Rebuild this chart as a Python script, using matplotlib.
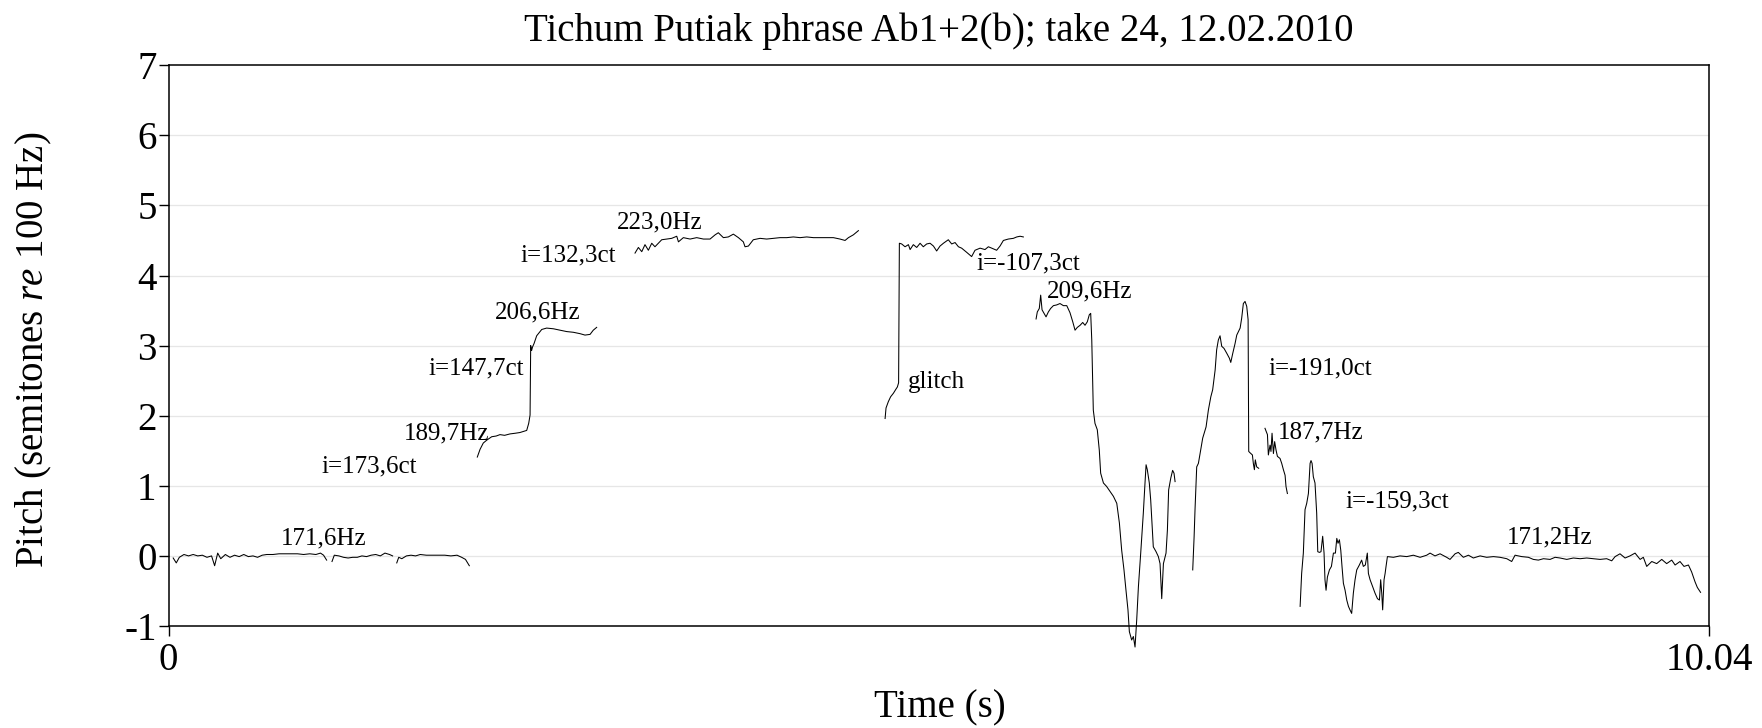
import matplotlib
matplotlib.use("Agg")
import matplotlib.pyplot as plt

# Pitch contour, semitones re 100 Hz, split into voiced stretches
seg_a1_t = [0.03, 0.05, 0.07, 0.10, 0.13, 0.16, 0.19, 0.22, 0.25, 0.28, 0.30, 0.32, 0.34, 0.37, 0.40, 0.43, 0.46,
            0.49, 0.52, 0.55, 0.58, 0.61, 0.64, 0.68, 0.72, 0.76, 0.80, 0.84, 0.88, 0.92, 0.96, 0.99, 1.01, 1.03]
seg_a1_st = [-0.03, -0.10, -0.02, 0.02, 0.00, 0.02, 0.00, 0.01, -0.02, 0.00, -0.14, 0.04, -0.04, 0.02, -0.02, 0.01,
             -0.01, 0.02, -0.01, 0.00, -0.02, 0.01, 0.02, 0.02, 0.03, 0.03, 0.03, 0.03, 0.02, 0.03, 0.02, 0.04, 0.01, -0.06]

seg_a2_t = [1.065, 1.08, 1.11, 1.14, 1.17, 1.20, 1.23, 1.26, 1.29, 1.32, 1.35, 1.38, 1.41, 1.44, 1.46]
seg_a2_st = [-0.08, 0.01, 0.00, -0.02, -0.03, -0.02, -0.02, 0.00, -0.01, 0.01, 0.02, 0.00, 0.04, 0.02, 0.00]

seg_a3_t = [1.487, 1.50, 1.52, 1.55, 1.58, 1.61, 1.64, 1.68, 1.72, 1.76, 1.80, 1.84, 1.88, 1.91, 1.935, 1.96]
seg_a3_st = [-0.10, -0.02, -0.04, 0.00, 0.01, 0.00, 0.02, 0.01, 0.01, 0.01, 0.01, 0.00, 0.01, -0.02, -0.05, -0.14]

seg_b_t = [2.012, 2.030, 2.051, 2.073, 2.106, 2.135, 2.160, 2.190, 2.225, 2.260, 2.290, 2.334, 2.347, 2.356, 2.360,
           2.366, 2.372, 2.382, 2.399, 2.432, 2.464, 2.508, 2.551, 2.595, 2.638, 2.682, 2.714, 2.747, 2.768, 2.790]
seg_b_st = [1.41, 1.52, 1.61, 1.65, 1.70, 1.71, 1.73, 1.72, 1.74, 1.75, 1.76, 1.79, 1.89, 2.01, 3.00,
            2.93, 2.98, 3.03, 3.14, 3.23, 3.25, 3.24, 3.22, 3.20, 3.19, 3.17, 3.15, 3.16, 3.22, 3.26]

seg_c_t = [3.040, 3.062, 3.084, 3.105, 3.127, 3.149, 3.170, 3.192, 3.214, 3.247, 3.279, 3.312, 3.323, 3.355, 3.399,
           3.442, 3.486, 3.529, 3.562, 3.583, 3.616, 3.648, 3.681, 3.714, 3.746, 3.757, 3.779, 3.811, 3.855, 3.898,
           3.942, 3.985, 4.029, 4.072, 4.116, 4.159, 4.203, 4.246, 4.289, 4.333, 4.376, 4.409, 4.431, 4.463, 4.496]
seg_c_st = [4.32, 4.40, 4.34, 4.44, 4.36, 4.46, 4.41, 4.46, 4.51, 4.52, 4.53, 4.56, 4.48, 4.54, 4.52,
            4.54, 4.52, 4.52, 4.58, 4.61, 4.54, 4.55, 4.59, 4.54, 4.48, 4.41, 4.42, 4.51, 4.53, 4.52,
            4.53, 4.54, 4.54, 4.55, 4.54, 4.55, 4.54, 4.54, 4.54, 4.54, 4.52, 4.50, 4.54, 4.58, 4.64]

seg_d_t = [4.670, 4.676, 4.691, 4.706, 4.724, 4.741, 4.750, 4.758, 4.763, 4.778, 4.800, 4.822, 4.833, 4.854, 4.876,
           4.898, 4.919, 4.941, 4.963, 4.985, 5.006, 5.028, 5.050, 5.082, 5.104, 5.126, 5.148, 5.169, 5.202, 5.234,
           5.256, 5.289, 5.321, 5.343, 5.365, 5.397, 5.419, 5.441, 5.473, 5.506, 5.528, 5.550, 5.571]
seg_d_st = [1.96, 2.11, 2.20, 2.27, 2.32, 2.38, 2.41, 2.47, 4.46, 4.45, 4.41, 4.44, 4.37, 4.44, 4.40,
            4.46, 4.41, 4.45, 4.46, 4.42, 4.35, 4.42, 4.46, 4.51, 4.45, 4.47, 4.41, 4.39, 4.33, 4.27,
            4.36, 4.39, 4.37, 4.41, 4.39, 4.36, 4.42, 4.50, 4.52, 4.53, 4.55, 4.56, 4.55]

seg_e1_t = [5.654, 5.662, 5.675, 5.684, 5.693, 5.706, 5.719, 5.734, 5.749, 5.767, 5.788, 5.810, 5.832, 5.854, 5.875,
            5.893, 5.908, 5.923, 5.941, 5.958, 5.973, 5.988, 6.001, 6.010, 6.017, 6.027, 6.038, 6.053, 6.066, 6.075,
            6.093, 6.114, 6.136, 6.158, 6.180, 6.197, 6.212, 6.227, 6.240, 6.253, 6.262, 6.277, 6.288, 6.299, 6.310,
            6.321, 6.336, 6.353, 6.364, 6.371, 6.379, 6.392, 6.401, 6.412, 6.418, 6.436, 6.451, 6.462, 6.473, 6.484,
            6.501, 6.510, 6.518, 6.532, 6.544, 6.553, 6.560]
seg_e1_st = [3.38, 3.48, 3.53, 3.72, 3.51, 3.46, 3.41, 3.48, 3.53, 3.57, 3.58, 3.60, 3.57, 3.57, 3.47,
             3.34, 3.22, 3.26, 3.29, 3.33, 3.29, 3.34, 3.44, 3.46, 3.08, 2.08, 1.89, 1.80, 1.51, 1.18,
             1.04, 0.99, 0.92, 0.85, 0.75, 0.47, 0.08, -0.20, -0.49, -0.77, -1.08, -1.20, -1.15, -1.30, -0.91,
             -0.44, 0.04, 0.61, 1.04, 1.30, 1.23, 1.04, 0.80, 0.37, 0.13, 0.06, -0.01, -0.11, -0.61, -0.11,
             0.04, 0.37, 0.94, 1.11, 1.22, 1.18, 1.06]

seg_e2_t = [6.675, 6.684, 6.690, 6.701, 6.712, 6.723, 6.740, 6.762, 6.777, 6.793, 6.805, 6.821, 6.831, 6.842, 6.853,
            6.864, 6.879, 6.897, 6.914, 6.923, 6.936, 6.951, 6.962, 6.984, 6.994, 7.005, 7.016, 7.027, 7.036, 7.040,
            7.049, 7.064, 7.070, 7.077, 7.083, 7.092, 7.105]
seg_e2_st = [-0.20, 0.27, 0.66, 1.27, 1.32, 1.46, 1.68, 1.84, 2.08, 2.27, 2.37, 2.65, 2.94, 3.08, 3.14,
             2.99, 2.96, 2.89, 2.82, 2.76, 2.89, 3.03, 3.15, 3.25, 3.39, 3.60, 3.63, 3.56, 3.37, 1.49,
             1.47, 1.44, 1.32, 1.23, 1.37, 1.27, 1.25]

seg_f_t = [7.146, 7.162, 7.168, 7.179, 7.185, 7.192, 7.201, 7.209, 7.218, 7.227, 7.244, 7.255, 7.266, 7.277, 7.283, 7.292]
seg_f_st = [1.82, 1.73, 1.44, 1.58, 1.49, 1.75, 1.46, 1.63, 1.51, 1.42, 1.39, 1.32, 1.23, 1.15, 0.99, 0.89]

seg_g_t = [7.375, 7.385, 7.396, 7.407, 7.418, 7.429, 7.440, 7.446, 7.453, 7.461, 7.472, 7.483, 7.490, 7.501, 7.511,
           7.522, 7.531, 7.537, 7.544, 7.553, 7.566, 7.579, 7.592, 7.605, 7.614, 7.622, 7.631, 7.640, 7.648, 7.657,
           7.668, 7.679, 7.690, 7.700, 7.711, 7.722, 7.733, 7.744, 7.761, 7.776, 7.787, 7.800, 7.813, 7.820, 7.831,
           7.848, 7.863, 7.879, 7.892, 7.900, 7.907, 7.913, 7.922, 7.929, 7.935, 7.944]
seg_g_st = [-0.72, -0.25, 0.04, 0.66, 0.75, 0.89, 1.32, 1.36, 1.32, 1.13, 1.04, 0.61, 0.06, 0.05, 0.06,
            0.28, 0.04, -0.34, -0.49, -0.30, -0.20, -0.15, 0.04, 0.04, 0.25, 0.18, 0.23, 0.08, -0.15, -0.39,
            -0.49, -0.63, -0.72, -0.77, -0.82, -0.53, -0.34, -0.20, -0.13, -0.06, -0.15, -0.13, 0.04, -0.25, -0.34,
            -0.44, -0.53, -0.61, -0.63, -0.34, -0.53, -0.77, -0.34, -0.25, -0.15, -0.01]

seg_h_t = [7.983, 8.026, 8.070, 8.113, 8.157, 8.200, 8.222, 8.254, 8.287, 8.330, 8.352, 8.385, 8.406, 8.439, 8.472,
           8.504, 8.548, 8.591, 8.635, 8.678, 8.722, 8.754, 8.776, 8.819, 8.863, 8.895, 8.928, 8.961, 9.004, 9.037,
           9.069, 9.113, 9.156, 9.200, 9.243, 9.286, 9.330, 9.373, 9.406, 9.428, 9.460, 9.493, 9.525, 9.558, 9.591,
           9.612, 9.634, 9.667, 9.699, 9.732, 9.764, 9.797, 9.819, 9.851, 9.877, 9.906, 9.927, 9.949, 9.964, 9.985]
seg_h_st = [-0.02, 0.00, -0.01, 0.01, -0.02, 0.01, 0.04, 0.00, 0.03, -0.02, -0.05, 0.03, 0.05, -0.02, 0.01,
            -0.03, 0.00, -0.02, -0.01, -0.02, -0.04, -0.08, 0.01, -0.01, -0.02, -0.05, -0.06, -0.04, -0.05, -0.02,
            -0.03, -0.05, -0.03, -0.04, -0.03, -0.04, -0.05, -0.04, -0.07, -0.01, 0.03, -0.03, 0.00, 0.04, -0.05,
            -0.02, -0.15, -0.08, -0.11, -0.05, -0.11, -0.06, -0.13, -0.08, -0.15, -0.13, -0.23, -0.37, -0.45, -0.52]

# Annotations: mean F0 of each note and the interval between notes
label_text = ["171,6Hz", "i=173,6ct", "189,7Hz", "i=147,7ct", "206,6Hz", "i=132,3ct", "223,0Hz", "glitch",
              "i=-107,3ct", "209,6Hz", "i=-191,0ct", "187,7Hz", "i=-159,3ct", "171,2Hz"]
label_t = [1.008, 1.307, 1.810, 2.002, 2.404, 2.603, 3.203, 5.003, 5.604, 6.000, 7.505, 7.507, 8.005, 9.004]
label_st = [0.17, 1.19, 1.66, 2.595, 3.39, 4.197, 4.673, 2.391, 4.088, 3.689, 2.595, 1.678, 0.693, 0.18]

title = "Tichum Putiak phrase Ab1+2(b); take 24, 12.02.2010"

plt.rcParams['font.family'] = ['Liberation Serif', 'DejaVu Serif']
plt.rcParams['mathtext.fontset'] = 'custom'
plt.rcParams['mathtext.rm'] = 'Liberation Serif'
plt.rcParams['mathtext.it'] = 'Liberation Serif:italic'
plt.rcParams['axes.unicode_minus'] = False

W, H = 1762, 728
fig = plt.figure(figsize=(W / 100, H / 100), dpi=100)
left, right, top, bottom = 168.6, 1709.0, 65.2, 626.0
ax = fig.add_axes([left / W, 1 - bottom / H, (right - left) / W, (bottom - top) / H])

segments = [
    (seg_a1_t, seg_a1_st), (seg_a2_t, seg_a2_st), (seg_a3_t, seg_a3_st),
    (seg_b_t, seg_b_st), (seg_c_t, seg_c_st), (seg_d_t, seg_d_st),
    (seg_e1_t, seg_e1_st), (seg_e2_t, seg_e2_st), (seg_f_t, seg_f_st),
    (seg_g_t + seg_h_t, seg_g_st + seg_h_st),
]
# contour is not clipped: the deep dip runs past the bottom axis
for t, st in segments:
    ax.plot(t, st, color='black', lw=0.75, clip_on=False)

for txt, t, st in zip(label_text, label_t, label_st):
    ax.text(t, st, txt, ha='center', va='baseline', fontsize=18)

# light horizontal grid at each semitone
for y in range(0, 7):
    ax.axhline(y, color='#e6e6e6', lw=0.9, zorder=0)

ax.set_xlim(0, 10.04)
ax.set_ylim(-1, 7)
ax.set_xticks([0, 10.04])
ax.set_xticklabels(['0', '10.04'])
ax.set_yticks(range(-1, 8))
ax.tick_params(axis='both', direction='out', length=7.2, width=1.0, labelsize=28)
ax.tick_params(axis='y', pad=1.5)
ax.tick_params(axis='x', pad=4)
for s in ax.spines.values():
    s.set_linewidth(1.1)

fig.text(939 / W, 1 - 40.5 / H, title, ha='center', va='baseline', fontsize=28)
fig.text(940 / W, 1 - 708 / H, 'Time (s)', ha='center', va='center', fontsize=28)
fig.text(34 / W, 1 - 350 / H, r'Pitch (semitones $\mathit{re}$ 100 Hz)', ha='center', va='center',
         rotation=90, fontsize=28)

fig.savefig('out.png', dpi=100)
